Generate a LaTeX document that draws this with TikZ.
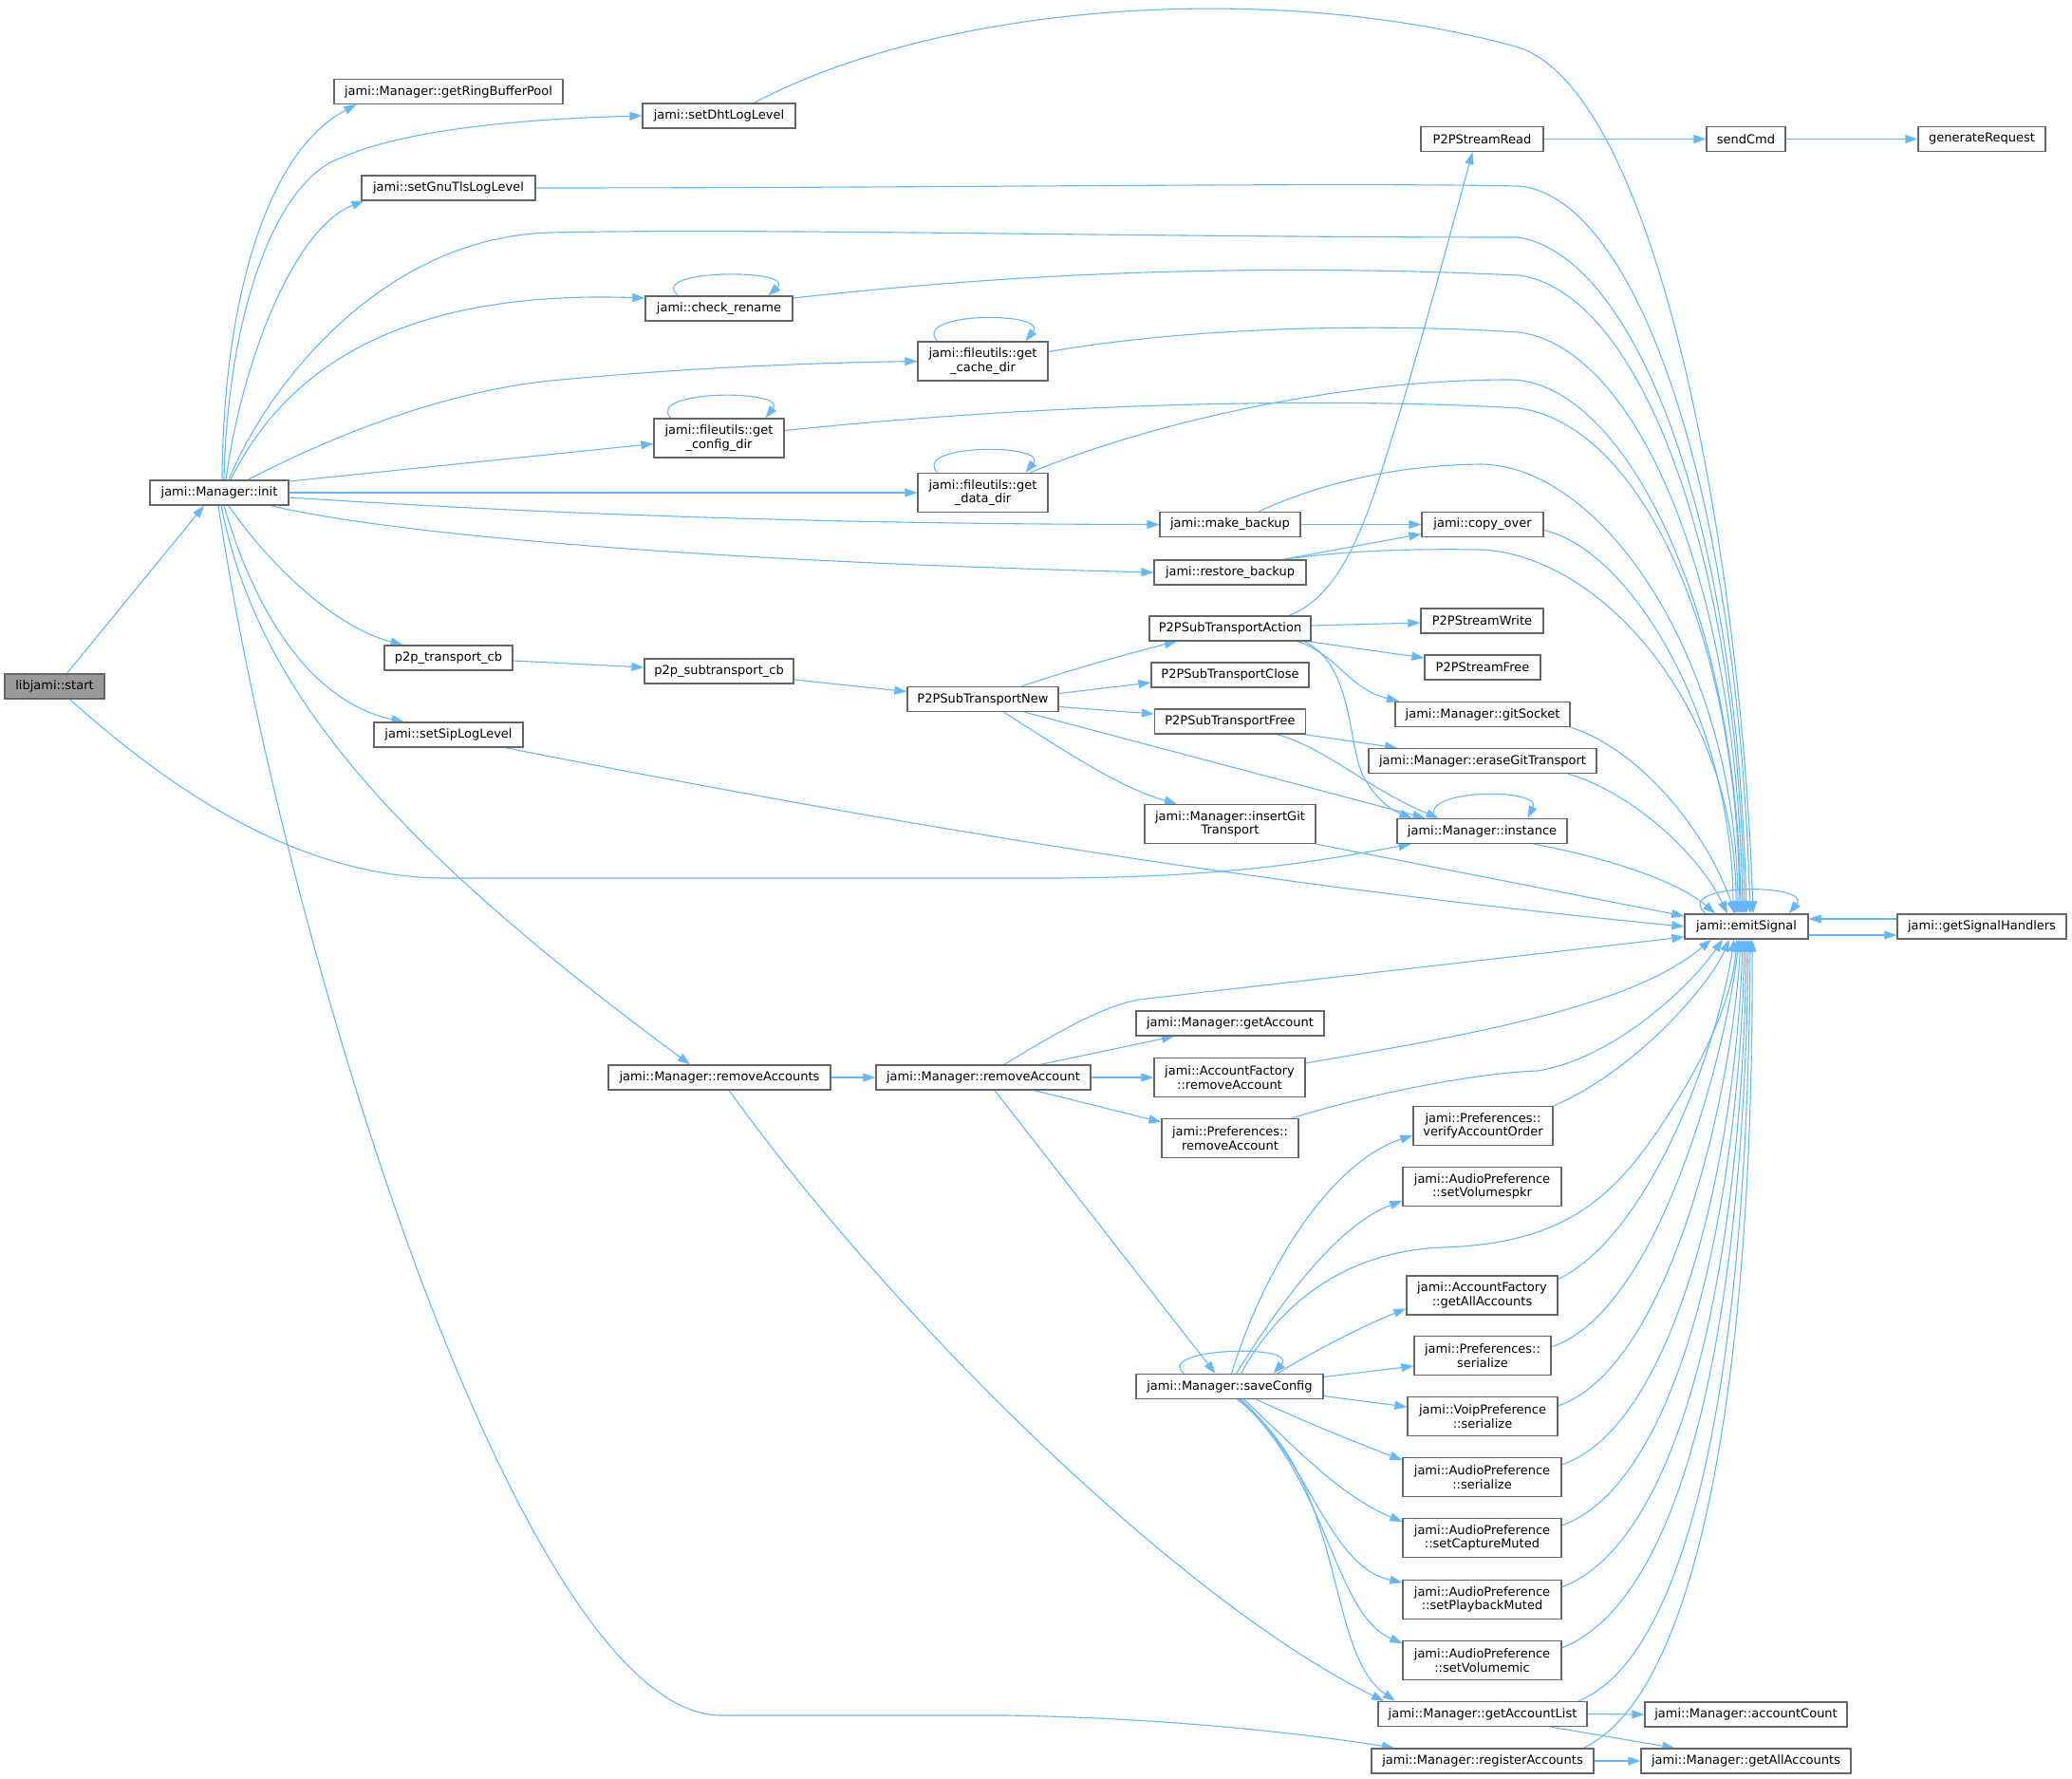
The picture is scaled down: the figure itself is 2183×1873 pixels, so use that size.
\documentclass[tikz,border=0pt]{standalone}
\usepackage{fontspec}
\setmainfont{DejaVu Sans}
\usetikzlibrary{arrows.meta}
\pgfdeclarelayer{bgl}
\pgfdeclarelayer{edges}
\pgfsetlayers{bgl,edges,main}
\definecolor{edgec}{HTML}{63B8FF}
\definecolor{boxc}{HTML}{666666}
\definecolor{rootc}{HTML}{999999}
\tikzset{
  box/.style={draw=boxc, fill=white, line width=1.3pt, inner sep=0pt, align=center,
    font=\fontsize{13}{14.5}\selectfont, minimum height=26pt, text=black},
  boxtwo/.style={box, minimum height=41pt},
  rootbox/.style={box, fill=rootc},
  conn/.style={draw=edgec, line width=1.1pt, -{Triangle[length=13pt,width=9pt]}}
}
\begin{document}
\begin{tikzpicture}[x=1pt,y=-1pt]
\useasboundingbox (0,0) rectangle (2183,1873);
\begin{pgfonlayer}{bgl}
\fill[white] (0,0) rectangle (2183,1873);
\end{pgfonlayer}

\node[rootbox, minimum width=105pt] (start) at (57.5,723) {libjami::start};
\node[box, minimum width=146pt] (init) at (231,519) {jami::Manager::init};
\node[box, minimum width=241pt] (grbp) at (472.5,96.5) {jami::Manager::getRingBufferPool};
\node[box, minimum width=161pt] (dht) at (757.5,122) {jami::setDhtLogLevel};
\node[box, minimum width=183pt] (gnutls) at (472.5,198) {jami::setGnuTlsLogLevel};
\node[box, minimum width=155pt] (chk) at (757.5,325) {jami::check\_rename};
\node[boxtwo, minimum width=137pt] (cache) at (1035.5,380.5) {jami::fileutils::get\\\_cache\_dir};
\node[boxtwo, minimum width=137pt] (config) at (757.5,461.5) {jami::fileutils::get\\\_config\_dir};
\node[boxtwo, minimum width=137pt] (data) at (1035.5,519) {jami::fileutils::get\\\_data\_dir};
\node[box, minimum width=148pt] (mkb) at (1296,552.5) {jami::make\_backup};
\node[box, minimum width=160pt] (rsb) at (1296,603) {jami::restore\_backup};
\node[box, minimum width=135pt] (p2ptcb) at (472.5,693) {p2p\_transport\_cb};
\node[box, minimum width=157pt] (p2pstcb) at (757.5,707) {p2p\_subtransport\_cb};
\node[box, minimum width=157pt] (sip) at (472.5,774) {jami::setSipLogLevel};
\node[box, minimum width=159pt] (stnew) at (1035.5,736.5) {P2PSubTransportNew};
\node[box, minimum width=170pt] (stact) at (1296,662) {P2PSubTransportAction};
\node[box, minimum width=166pt] (stclose) at (1296,711) {P2PSubTransportClose};
\node[box, minimum width=159pt] (stfree) at (1296,760) {P2PSubTransportFree};
\node[boxtwo, minimum width=180pt] (insgit) at (1296,868) {jami::Manager::insertGit\\Transport};
\node[box, minimum width=129pt] (sread) at (1561.5,146.5) {P2PStreamRead};
\node[box, minimum width=83pt] (send) at (1839.5,146.5) {sendCmd};
\node[box, minimum width=134pt] (genreq) at (2088,146.5) {generateRequest};
\node[box, minimum width=128pt] (copy) at (1562,552.5) {jami::copy\_over};
\node[box, minimum width=129pt] (swrite) at (1561.5,654) {P2PStreamWrite};
\node[box, minimum width=122pt] (sfree) at (1562,703) {P2PStreamFree};
\node[box, minimum width=184pt] (gitsock) at (1562,752.5) {jami::Manager::gitSocket};
\node[box, minimum width=240pt] (erase) at (1562,801.5) {jami::Manager::eraseGitTransport};
\node[box, minimum width=179pt] (inst) at (1561.5,875.5) {jami::Manager::instance};
\node[box, minimum width=130pt] (emit) at (1840,976) {jami::emitSignal};
\node[box, minimum width=178pt] (gsh) at (2088,976) {jami::getSignalHandlers};
\node[box, minimum width=234pt] (rmaccs) at (758,1135) {jami::Manager::removeAccounts};
\node[box, minimum width=226pt] (rmacc) at (1036,1135) {jami::Manager::removeAccount};
\node[box, minimum width=198pt] (getacc) at (1296,1078) {jami::Manager::getAccount};
\node[boxtwo, minimum width=159pt] (afrm) at (1295.5,1135) {jami::AccountFactory\\::removeAccount};
\node[boxtwo, minimum width=144pt] (prefrm) at (1296,1199) {jami::Preferences::\\removeAccount};
\node[box, minimum width=197pt] (save) at (1295.5,1460.5) {jami::Manager::saveConfig};
\node[boxtwo, minimum width=147pt] (verify) at (1562.5,1186) {jami::Preferences::\\verifyAccountOrder};
\node[boxtwo, minimum width=167pt] (volspk) at (1561.5,1250) {jami::AudioPreference\\::setVolumespkr};
\node[boxtwo, minimum width=159pt] (afall) at (1561.5,1364.5) {jami::AccountFactory\\::getAllAccounts};
\node[boxtwo, minimum width=144pt] (prefser) at (1562,1428) {jami::Preferences::\\serialize};
\node[boxtwo, minimum width=158pt] (voipser) at (1562,1492) {jami::VoipPreference\\::serialize};
\node[boxtwo, minimum width=167pt] (audser) at (1561.5,1556) {jami::AudioPreference\\::serialize};
\node[boxtwo, minimum width=167pt] (capmute) at (1561.5,1620) {jami::AudioPreference\\::setCaptureMuted};
\node[boxtwo, minimum width=167pt] (playmute) at (1561.5,1685) {jami::AudioPreference\\::setPlaybackMuted};
\node[boxtwo, minimum width=167pt] (volmic) at (1561.5,1749) {jami::AudioPreference\\::setVolumemic};
\node[box, minimum width=220pt] (accl) at (1562,1805.5) {jami::Manager::getAccountList};
\node[box, minimum width=213pt] (acccnt) at (1839.5,1806) {jami::Manager::accountCount};
\node[box, minimum width=234pt] (regacc) at (1562,1855) {jami::Manager::registerAccounts};
\node[box, minimum width=221pt] (mgrall) at (1839.5,1855) {jami::Manager::getAllAccounts};

\begin{pgfonlayer}{edges}
% start
\draw[conn] ([xshift=13pt]start.north) -- ([xshift=-16pt]init.south);
\draw[conn] ([xshift=16pt]start.south) .. controls (200,850) and (330,925) .. (470,925) -- (1100,925) .. controls (1300,925) and (1400,905) .. ([xshift=-75pt]inst.south);
% init
\draw[conn] ([xshift=3pt]init.north) .. controls (235,320) and (280,160) .. ([xshift=-97pt]grbp.south);
\draw[conn] ([xshift=5pt]init.north) .. controls (240,330) and (290,190) .. (360,166) .. controls (430,135) and (560,125) .. (dht.west);
\draw[conn] ([xshift=7pt]init.north) .. controls (255,380) and (310,240) .. ([xshift=-89pt]gnutls.south);
\draw[conn] ([xshift=10pt]init.north) .. controls (280,410) and (400,250) .. (580,245) .. controls (800,240) and (1200,250) .. (1600,250) .. controls (1720,270) and (1830,535) .. (emit.north);
\draw[conn] ([xshift=12pt]init.north) .. controls (300,390) and (420,305) .. ([yshift=11pt]chk.west);
\draw[conn] ([xshift=30pt]init.north) .. controls (330,470) and (450,415) .. (580,401) .. controls (750,385) and (880,382) .. (cache.west);
\draw[conn] ([yshift=12pt]init.east) -- ([yshift=-6pt]config.west);
\draw[conn] (init.east) -- (data.west);
\draw[conn] ([yshift=-5pt]init.east) .. controls (550,540) and (850,552) .. (mkb.west);
\draw[conn] ([xshift=54pt]init.south) .. controls (400,560) and (700,590) .. (rsb.west);
\draw[conn] ([xshift=10pt]init.south) .. controls (280,590) and (350,660) .. ([xshift=-48pt]p2ptcb.north);
\draw[conn] ([xshift=5pt]init.south) .. controls (270,650) and (330,740) .. ([xshift=-47pt]sip.north);
\draw[conn] ([xshift=2pt]init.south) .. controls (270,720) and (400,880) .. ([xshift=-31pt]rmaccs.north);
\draw[conn] ([xshift=-1pt]init.south) .. controls (300,1000) and (550,1807) .. (760,1807) -- (1060,1807) .. controls (1250,1810) and (1400,1830) .. ([xshift=-93pt]regacc.north);
% into emitSignal from above
\draw[conn] ([xshift=37pt]dht.north) .. controls (1000,0) and (1350,-20) .. (1600,50) .. controls (1750,100) and (1835,600) .. ([xshift=7pt]emit.north);
\draw[conn] (gnutls.east) .. controls (1000,198) and (1400,192) .. (1600,196) .. controls (1720,206) and (1830,500) .. ([xshift=4pt]emit.north);
\draw[conn] ([yshift=11pt]chk.east) .. controls (1050,290) and (1300,276) .. (1600,290) .. controls (1720,305) and (1830,560) .. ([xshift=-2pt]emit.north);
\draw[conn] ([yshift=10pt]cache.east) .. controls (1250,345) and (1450,340) .. (1600,350) .. controls (1720,365) and (1830,600) .. ([xshift=-4pt]emit.north);
\draw[conn] ([yshift=8pt]config.east) .. controls (1100,425) and (1400,418) .. (1600,430) .. controls (1720,445) and (1830,650) .. ([xshift=-7pt]emit.north);
\draw[conn] ([xshift=50pt]data.north) .. controls (1200,450) and (1400,400) .. (1590,400) .. controls (1710,400) and (1830,640) .. ([xshift=-6pt]emit.north);
\draw[conn] ([xshift=30pt]mkb.north) .. controls (1400,505) and (1480,490) .. (1560,489) .. controls (1690,490) and (1830,700) .. ([xshift=-9pt]emit.north);
\draw[conn] ([xshift=56pt]rsb.north) .. controls (1420,580) and (1480,578) .. (1560,579) .. controls (1690,585) and (1830,750) .. ([xshift=-11pt]emit.north);
\draw[conn] ([xshift=56pt]rsb.north) -- ([yshift=-10pt]copy.west);
\draw[conn] (mkb.east) -- (copy.west);
\draw[conn] ([yshift=-6pt]copy.east) .. controls (1720,580) and (1825,760) .. ([xshift=-14pt]emit.north);
% self loops
\draw[conn] ([xshift=-43pt]chk.north) .. controls (680,283) and (840,283) .. ([xshift=52pt]chk.north);
\draw[conn] ([xshift=-51pt]config.north) .. controls (680,410) and (830,410) .. ([xshift=49pt]config.north);
\draw[conn] ([xshift=-48pt]cache.north) .. controls (960,328) and (1105,328) .. ([xshift=45pt]cache.north);
\draw[conn] ([xshift=-48pt]data.north) .. controls (960,467) and (1105,467) .. ([xshift=45pt]data.north);
% p2p chain
\draw[conn] ([yshift=-3pt]p2ptcb.east) -- ([yshift=4pt]p2pstcb.west);
\draw[conn] ([yshift=-9pt]p2pstcb.east) -- ([yshift=8pt]stnew.west);
\draw[conn] ([xshift=41pt]stnew.north) .. controls (1130,705) and (1190,688) .. ([xshift=-56pt]stact.south);
\draw[conn] ([yshift=6pt]stnew.east) -- ([yshift=-8pt]stclose.west);
\draw[conn] ([yshift=-8pt]stnew.east) -- ([yshift=8pt]stfree.west);
\draw[conn] ([xshift=44pt]stnew.south) -- ([xshift=-60pt]inst.north);
\draw[conn] ([xshift=22pt]stnew.south) .. controls (1120,790) and (1180,830) .. ([xshift=-56pt]insgit.north);
\draw[conn] ([xshift=62pt]stact.north) .. controls (1420,625) and (1445,530) .. (1470,450) .. controls (1495,370) and (1535,220) .. ([xshift=-10pt]sread.south);
\draw[conn] ([yshift=3pt]stact.east) -- ([yshift=-2pt]swrite.west);
\draw[conn] ([xshift=82pt]stact.south) -- ([yshift=10pt]sfree.west);
\draw[conn] ([xshift=71pt]stact.south) .. controls (1410,690) and (1420,725) .. ([xshift=-88pt]gitsock.north);
\draw[conn] ([xshift=78pt]stact.south) .. controls (1425,700) and (1420,780) .. (1435,815) .. controls (1450,845) and (1470,855) .. ([xshift=-74pt]inst.north);
\draw[conn] ([xshift=-2pt]stfree.south east) -- ([xshift=-90pt]erase.north);
\draw[conn] ([xshift=50pt]stfree.south) .. controls (1400,790) and (1440,830) .. ([xshift=-46pt]inst.north);
\draw[conn] (sread.east) -- (send.west);
\draw[conn] (send.east) -- (genreq.west);
\draw[conn] (gitsock.south east) .. controls (1730,790) and (1800,880) .. ([xshift=-12pt]emit.north);
\draw[conn] ([xshift=90pt]erase.south) .. controls (1720,835) and (1790,900) .. ([xshift=-20pt]emit.north);
\draw[conn] ([xshift=55pt]inst.south) .. controls (1700,905) and (1770,930) .. ([xshift=-33pt]emit.north);
\draw[conn] ([xshift=-50pt]inst.north) .. controls (1495,830) and (1625,830) .. ([xshift=48pt]inst.north);
\draw[conn] (insgit.south east) -- ([yshift=11pt]emit.west);
\draw[conn] ([xshift=60pt]sip.south) .. controls (900,860) and (1300,930) .. (emit.west);
% emitSignal
\draw[conn] ([xshift=-43pt]emit.north) .. controls (1760,930) and (1910,930) .. ([xshift=45pt]emit.north);
\draw[conn] ([yshift=-9pt]emit.east) -- ([yshift=-9pt]gsh.west);
\draw[conn] ([yshift=8pt]gsh.west) -- ([yshift=8pt]emit.east);
% lower part
\draw[conn] (rmaccs.east) -- (rmacc.west);
\draw[conn] ([xshift=10pt]rmaccs.south) .. controls (950,1400) and (1250,1690) .. ([xshift=-104pt]accl.north);
\draw[conn] ([xshift=22pt]rmacc.north) .. controls (1110,1090) and (1160,1060) .. (1200,1053) -- ([yshift=-11pt]emit.west);
\draw[conn] ([xshift=60pt]rmacc.north) -- ([xshift=-59pt]getacc.south);
\draw[conn] (rmacc.east) -- (afrm.west);
\draw[conn] ([xshift=54pt]rmacc.south) -- ([yshift=17pt]prefrm.west);
\draw[conn] ([xshift=12pt]rmacc.south) -- ([xshift=-15pt]save.north);
\draw[conn] ([yshift=-6pt]afrm.north east) .. controls (1550,1090) and (1720,1060) .. ([xshift=-37pt]emit.south);
\draw[conn] ([xshift=65pt]prefrm.north) .. controls (1450,1150) and (1560,1130) .. (1620,1128) .. controls (1700,1115) and (1780,1040) .. ([xshift=-25pt]emit.south);
\draw[conn] (verify.north east) .. controls (1720,1130) and (1800,1040) .. ([xshift=-18pt]emit.south);
\draw[conn] ([yshift=-4pt]afall.north east) .. controls (1740,1300) and (1810,1100) .. ([xshift=-13pt]emit.south);
\draw[conn] ([yshift=-12pt]prefser.north east) .. controls (1750,1380) and (1820,1100) .. ([xshift=-8pt]emit.south);
\draw[conn] ([yshift=-10pt]voipser.north east) .. controls (1760,1440) and (1825,1150) .. ([xshift=-6pt]emit.south);
\draw[conn] ([yshift=-8pt]audser.north east) .. controls (1770,1500) and (1830,1200) .. ([xshift=-4pt]emit.south);
\draw[conn] ([yshift=-8pt]capmute.north east) .. controls (1775,1560) and (1833,1250) .. ([xshift=-2pt]emit.south);
\draw[conn] ([yshift=-8pt]playmute.north east) .. controls (1780,1620) and (1836,1300) .. (emit.south);
\draw[conn] ([yshift=-8pt]volmic.north east) .. controls (1785,1680) and (1838,1350) .. ([xshift=2pt]emit.south);
\draw[conn] ([xshift=101pt]accl.north) .. controls (1790,1740) and (1842,1400) .. ([xshift=4pt]emit.south);
\draw[conn] ([xshift=106pt]regacc.north) .. controls (1800,1780) and (1848,1400) .. ([xshift=6pt]emit.south);
% saveConfig
\draw[conn] ([xshift=-48pt]save.north) .. controls (1215,1420) and (1370,1415) .. ([xshift=46pt]save.north);
\draw[conn] ([xshift=2pt]save.north) .. controls (1330,1340) and (1400,1225) .. ([yshift=-10pt]verify.west);
\draw[conn] ([xshift=7pt]save.north) .. controls (1350,1370) and (1410,1290) .. ([yshift=-15pt]volspk.west);
\draw[conn] ([xshift=12pt]save.north) .. controls (1350,1370) and (1420,1318) .. (1520,1314) .. controls (1650,1310) and (1700,1260) .. (1750,1186) .. controls (1800,1110) and (1825,1050) .. ([xshift=-10pt]emit.south);
\draw[conn] ([xshift=50pt]save.north) .. controls (1390,1420) and (1440,1395) .. ([yshift=-14pt]afall.west);
\draw[conn] ([yshift=10pt]save.east) -- ([yshift=-11pt]prefser.west);
\draw[conn] ([yshift=-10pt]save.east) -- ([yshift=10pt]voipser.west);
\draw[conn] ([xshift=28pt]save.south) .. controls (1380,1500) and (1430,1520) .. ([yshift=18pt]audser.west);
\draw[conn] ([xshift=15pt]save.south) .. controls (1360,1520) and (1410,1575) .. ([yshift=17pt]capmute.west);
\draw[conn] ([xshift=12pt]save.south) .. controls (1380,1540) and (1400,1650) .. ([yshift=18pt]playmute.west);
\draw[conn] ([xshift=10pt]save.south) .. controls (1400,1560) and (1405,1700) .. ([yshift=18pt]volmic.west);
\draw[conn] ([xshift=8pt]save.south) .. controls (1420,1560) and (1395,1740) .. ([xshift=-92pt]accl.north);
\draw[conn] (accl.east) -- (acccnt.west);
\draw[conn] ([xshift=72pt]accl.south) -- ([xshift=-75pt]mgrall.north);
\draw[conn] (regacc.east) -- (mgrall.west);
\end{pgfonlayer}
\end{tikzpicture}
\end{document}
